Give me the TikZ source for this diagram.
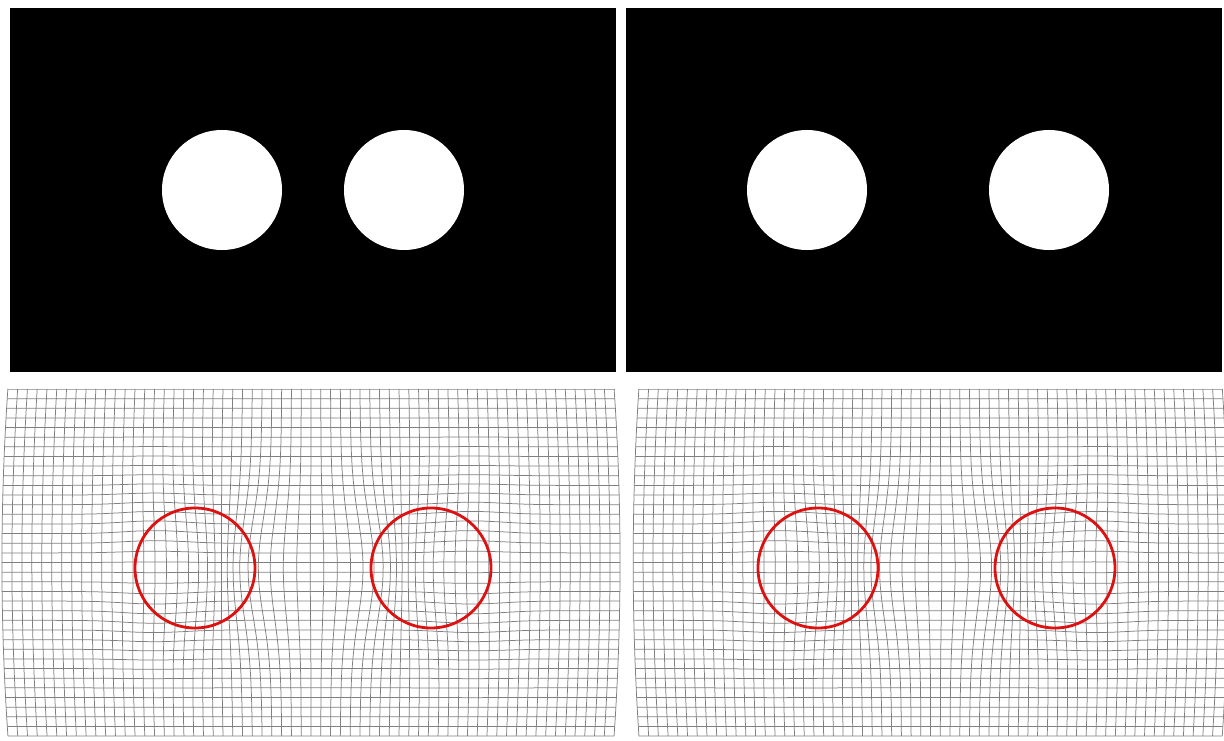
\documentclass[tikz,border=0pt]{standalone}
\tikzset{
  gridline/.style={draw=black!50, line width=0.75pt},
  redring/.style={draw={rgb,255:red,222;green,16;blue,16}, line width=2.8pt},
  panel/.style={fill=black},
  hole/.style={fill=white},
  declare function={
    gss(\u,\v)=exp(max(-9,-(\u*\u+\v*\v)));
    dxA(\p,\q)=0.02*(\p-311)*(1-((\q-562)/175)^2)
      -14*gss((\p-263)/40,(\q-568)/70)+14*gss((\p-363)/40,(\q-568)/70)
      +8*gss((\p-195)/45,(\q-568)/70)-8*gss((\p-431)/45,(\q-568)/70);
    dyA(\p,\q)=0.12*(\q-568)*(gss((\p-155)/40,(\q-568)/60)+gss((\p-471)/40,(\q-568)/60));
    dxB(\p,\q)=0.02*(\p-930)*(1-((\q-562)/175)^2)
      -12*gss((\p-892)/38,(\q-568)/70)+12*gss((\p-982)/38,(\q-568)/70)
      +8*gss((\p-818)/45,(\q-568)/70)-8*gss((\p-1055)/45,(\q-568)/70);
    dyB(\p,\q)=0.12*(\q-568)*(gss((\p-778)/40,(\q-568)/60)+gss((\p-1095)/40,(\q-568)/60));
  }
}
\begin{document}
\begin{tikzpicture}[x=1pt,y=-1pt]
\useasboundingbox (0,0) rectangle (1224,741);
% top panels
\fill[panel] (10,8) rectangle (616,372);
\fill[panel] (626,8) rectangle (1222,372);
\fill[hole] (222,190) circle[radius=60pt];
\fill[hole] (404,190) circle[radius=60pt];
\fill[hole] (807,190) circle[radius=60pt];
\fill[hole] (1049,190) circle[radius=60pt];
% bottom-left deformed grid
\foreach \i in {0,...,62} {
  \pgfmathsetmacro\xx{8+\i*9.774}
  \draw[gridline] plot[variable=\t, domain=389:736, samples=19, smooth] ({\xx+dxA(\xx,\t)},{\t+dyA(\xx,\t)});
}
\foreach \j in {0,...,36} {
  \pgfmathsetmacro\yy{389+\j*9.64}
  \draw[gridline] plot[variable=\t, domain=8:614, samples=33, smooth] ({\t+dxA(\t,\yy)},{\yy+dyA(\t,\yy)});
}
% bottom-right deformed grid
\foreach \i in {0,...,60} {
  \pgfmathsetmacro\xx{639+\i*9.72}
  \draw[gridline] plot[variable=\t, domain=389:736, samples=19, smooth] ({\xx+dxB(\xx,\t)},{\t+dyB(\xx,\t)});
}
\foreach \j in {0,...,36} {
  \pgfmathsetmacro\yy{389+\j*9.64}
  \draw[gridline] plot[variable=\t, domain=639:1222, samples=33, smooth] ({\t+dxB(\t,\yy)},{\yy+dyB(\t,\yy)});
}
% red rings
\draw[redring] (195,568) circle[radius=60pt];
\draw[redring] (431,568) circle[radius=60pt];
\draw[redring] (818,568) circle[radius=60pt];
\draw[redring] (1055,568) circle[radius=60pt];
\end{tikzpicture}
\end{document}
